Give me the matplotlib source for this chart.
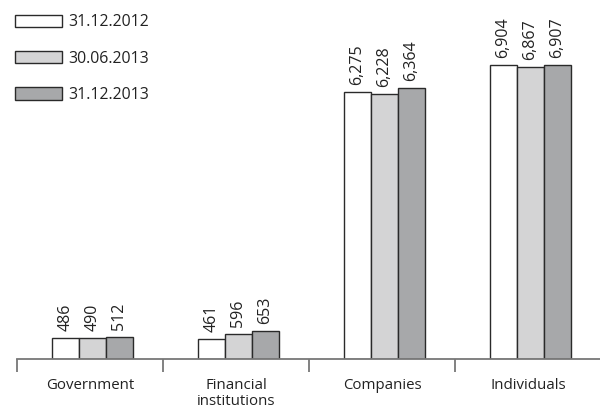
import matplotlib
matplotlib.use("Agg")
import matplotlib.pyplot as plt
import numpy as np

categories = ["Government", "Financial\ninstitutions", "Companies", "Individuals"]
series_names = ["31.12.2012", "30.06.2013", "31.12.2013"]
v2012 = [486, 461, 6275, 6904]
v2013h = [490, 596, 6228, 6867]
v2013 = [512, 653, 6364, 6907]
labels_2012 = ["486", "461", "6,275", "6,904"]
labels_2013h = ["490", "596", "6,228", "6,867"]
labels_2013 = ["512", "653", "6,364", "6,907"]

plt.rcParams['font.family'] = ['Open Sans', 'DejaVu Sans']
fig = plt.figure(figsize=(6, 4.16), dpi=100)
ax = fig.add_axes([17/600, 57/416, 584/600, 359/416])

colors = ["#ffffff", "#d4d4d5", "#a7a8aa"]
edge = "#2a2a2a"
w = 0.185
x = np.arange(len(categories)) + 0.5
all_vals = [v2012, v2013h, v2013]
all_labels = [labels_2012, labels_2013h, labels_2013]
for k, (vals, labs) in enumerate(zip(all_vals, all_labels)):
    xs = x + 0.015 + (k - 1) * w
    ax.bar(xs, vals, width=w, color=colors[k], edgecolor=edge, linewidth=1.0,
           label=series_names[k], zorder=2)
    for xi, v, lab in zip(xs, vals, labs):
        ax.annotate(lab, (xi, v), xytext=(0, 5), textcoords="offset points",
                    rotation=90, ha="center", va="bottom", fontsize=11.5, color="#222222")

ax.set_xlim(0, 4)
ax.set_ylim(0, 8433)
for s in ["top", "right", "left"]:
    ax.spines[s].set_visible(False)
ax.spines["bottom"].set_color("#777777")
ax.spines["bottom"].set_linewidth(1.3)
ax.set_yticks([])
ax.set_xticks([0, 1, 2, 3])
ax.set_xticklabels([])
ax.tick_params(axis="x", which="major", length=9.5, width=1.3, color="#777777")
ax.set_xticks(x, minor=True)
ax.set_xticklabels(categories, minor=True, fontsize=10.8, color="#222222", linespacing=1.05)
ax.tick_params(axis="x", which="minor", length=0, pad=14)

leg = ax.legend(loc="upper left", bbox_to_anchor=(15/600, 1 - 14.5/416),
                bbox_transform=fig.transFigure, frameon=False, fontsize=11.4,
                handlelength=2.97, handleheight=0.85, labelspacing=1.27,
                handletextpad=0.4, borderpad=0, borderaxespad=0)
for t in leg.get_texts():
    t.set_color("#222222")

fig.savefig("out.png", dpi=100)
